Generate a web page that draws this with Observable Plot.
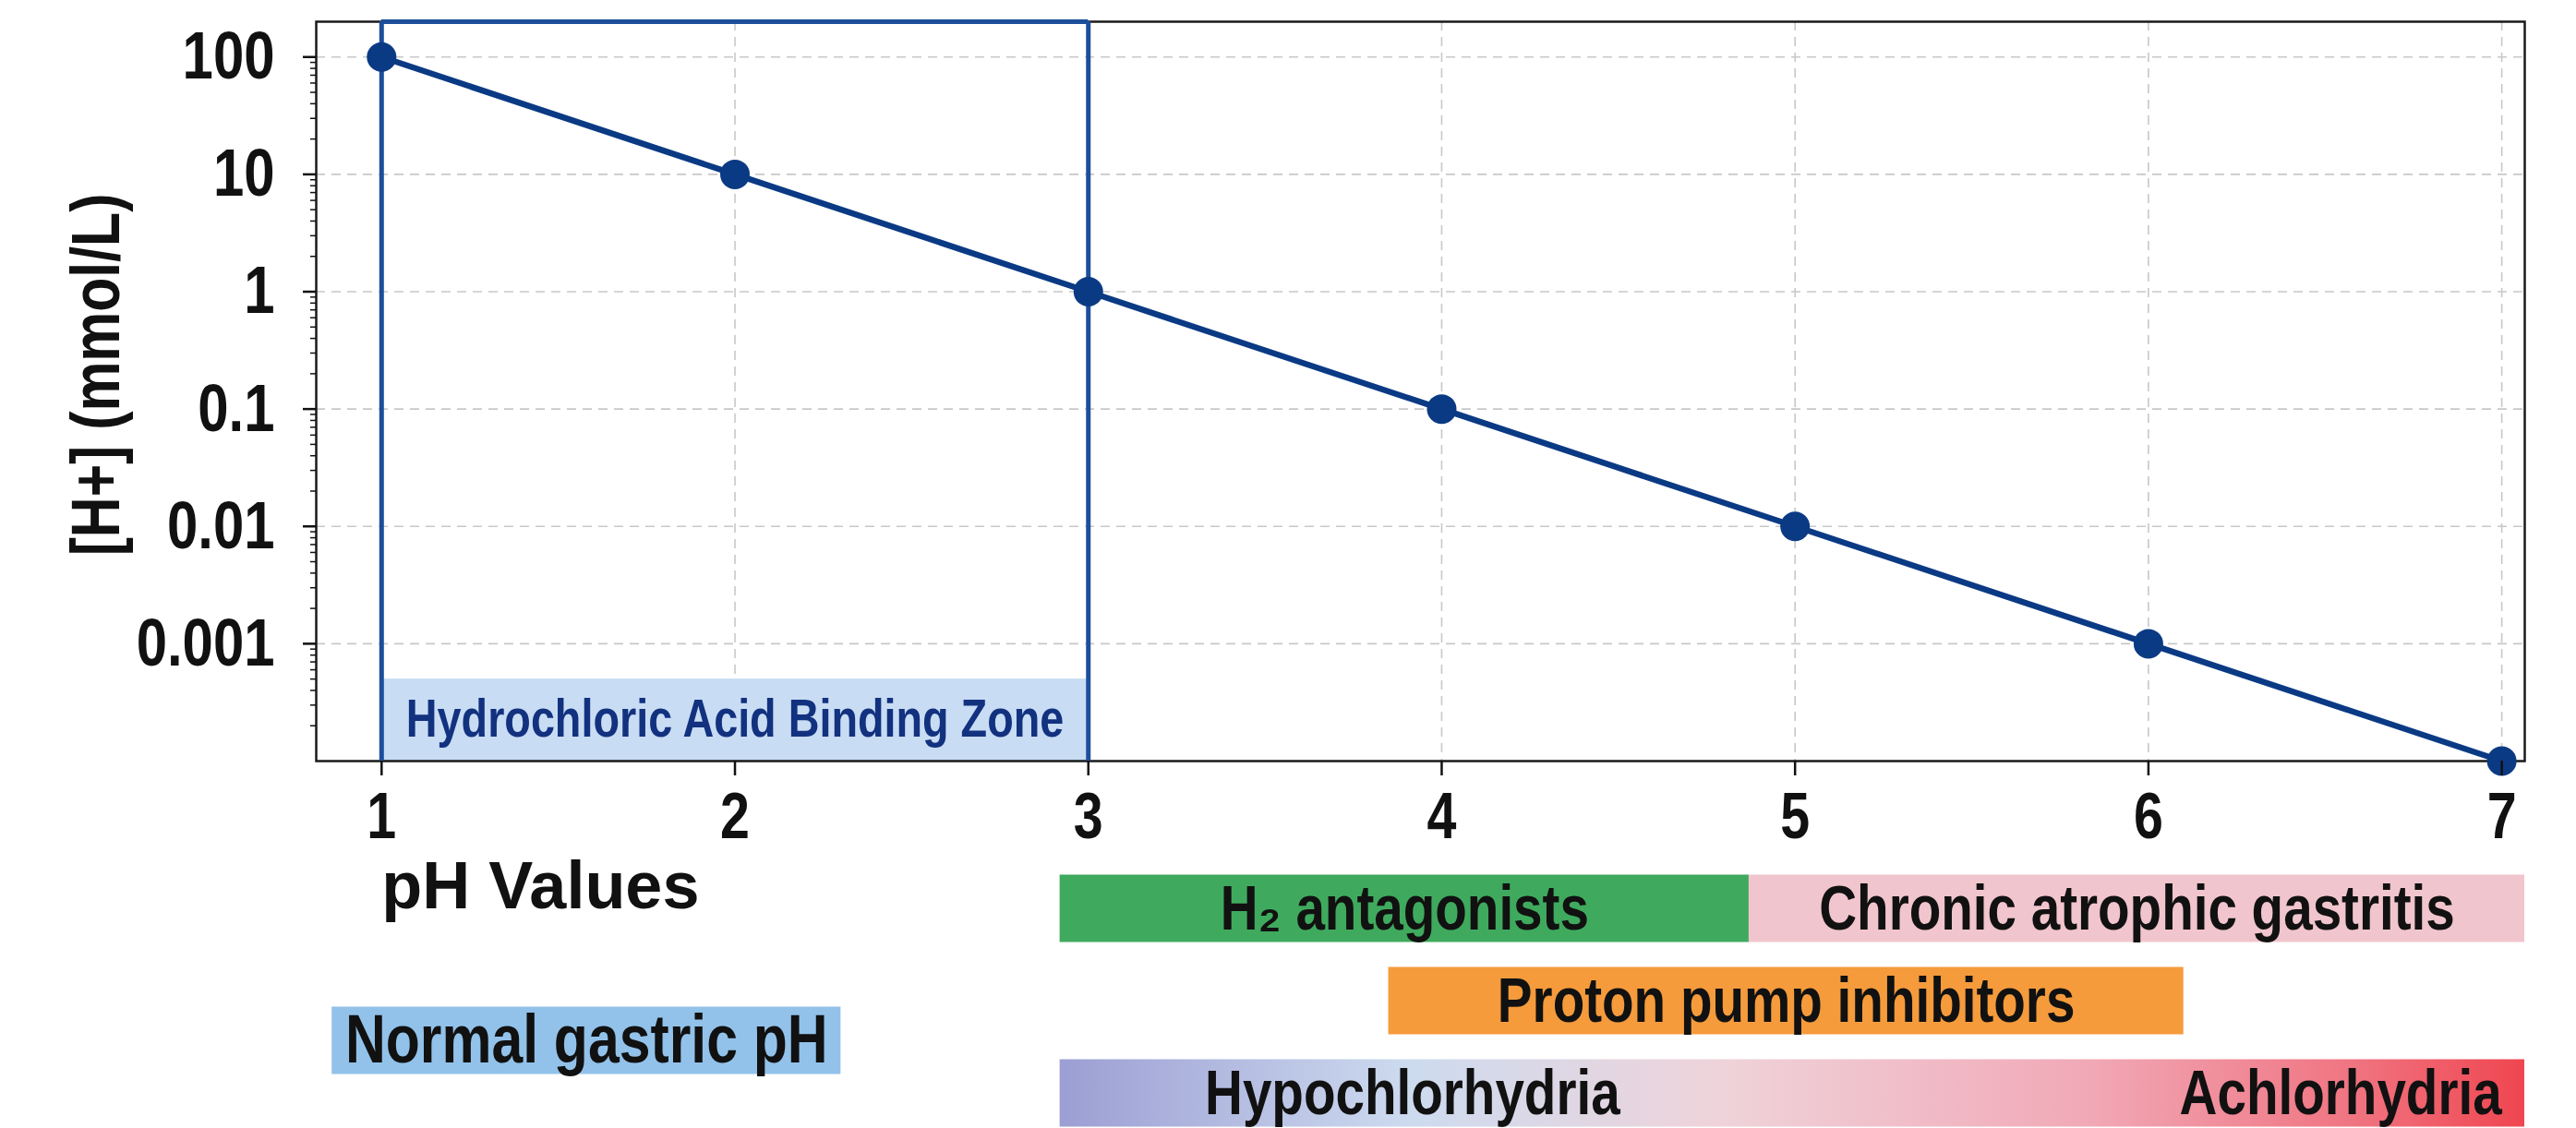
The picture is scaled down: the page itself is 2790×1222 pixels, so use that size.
<!DOCTYPE html>
<html>
<head>
<meta charset="utf-8">
<script src="https://cdn.jsdelivr.net/npm/d3@7"></script>
<script src="https://cdn.jsdelivr.net/npm/@observablehq/plot@0.6"></script>
<style>
  body { margin: 0; background: #ffffff; }
  #chart { position: relative; width: 2790px; height: 1222px; overflow: hidden; }
  #chart svg { display: block; }
  #chart svg.bars { margin-top: -80px; position: relative; }
</style>
</head>
<body>
<div id="chart"></div>
<script>
// ---------- data ----------
const pH = [1, 2, 3, 4, 5, 6, 7];
const hConc = [100, 10, 1, 0.1, 0.01, 0.001, 0.0001];
const yTickValues = [100, 10, 1, 0.1, 0.01, 0.001];
const yTickLabels = ["100", "10", "1", "0.1", "0.01", "0.001"];
const yLabel = "[H+] (mmol/L)";
const xLabel = "pH Values";

const zoneLabel = "Hydrochloric Acid Binding Zone";
const zonePH = [1, 3];
const zoneBand = [0.0001, 0.0005];

const barLabels = ["H₂ antagonists", "Chronic atrophic gastritis", "Proton pump inhibitors", "Hypochlorhydria", "Normal gastric pH"];
const barStart = [2.92, 4.87, 3.85, 2.92, 0.86];
const barEnd = [4.87, 7.065, 6.1, 7.065, 2.3];
const barRow = [0, 0, 1, 2, 1.43];

const sideLabels = ["Hypochlorhydria", "Achlorhydria"];
const sideLabelPH = [3.33, 7.0];
const sideLabelRow = [2, 2];

// ---------- styles ----------
const barColors = ["#3faa5e", "#f1c5cd", "#f59b3c", "url(#hypoGrad)", "#92c2ea"];
const barHasCenterText = [true, true, true, false, true];
const barFontSize = [69, 69, 69, 69, 74];
const sideAnchors = ["start", "end"];
const navy = "#0b3a84";
const zoneBlue = "#1d4e9b";
const font = "'Liberation Sans', Arial, Helvetica, sans-serif";
const narrow = "'Liberation Sans Narrow', 'Arial Narrow', 'Liberation Sans', Arial, sans-serif";
const condense = 0.82;
const xDomain = [0.815, 7.065];
const W = 2790;

// ---------- tables ----------
const series = pH.map((p, i) => ({pH: p, h: hConc[i]}));
const bars = barLabels.map((label, i) => ({label, x1: barStart[i], x2: barEnd[i], row: barRow[i], fill: barColors[i], center: barHasCenterText[i], size: barFontSize[i]}));
const sides = sideLabels.map((label, i) => ({label, x: sideLabelPH[i], row: sideLabelRow[i], anchor: sideAnchors[i]}));
const minorTicks = [];
for (let e = -4; e <= 2; e++) for (let m = 2; m <= 9; m++) { const v = m * Math.pow(10, e); if (v < 200) minorTicks.push(v); }

const yMax = 200, yMin = 0.0001;

const mainPlot = Plot.plot({
  width: W, height: 1000,
  marginTop: 23, marginBottom: 176, marginLeft: 342, marginRight: 56,
  x: {domain: xDomain},
  y: {type: "log", domain: [yMin, yMax]},
  style: {fontFamily: font, background: "#ffffff", color: "#111"},
  marks: [
    Plot.gridY(yTickValues, {stroke: "#c8c8c8", strokeOpacity: 1, strokeWidth: 1.6, strokeDasharray: "10,7"}),
    Plot.gridX(pH, {stroke: "#c8c8c8", strokeOpacity: 1, strokeWidth: 1.6, strokeDasharray: "10,7"}),
    Plot.rect([zoneBand], {x1: () => zonePH[0], x2: () => zonePH[1], y1: d => d[0], y2: d => d[1], fill: "#c8dcf4"}),
    Plot.text([zoneLabel], {x: (zonePH[0] + zonePH[1]) / 2, y: Math.sqrt(zoneBand[0] * zoneBand[1]), text: d => d,
      fill: "#12317f", fontSize: 57, fontWeight: "bold", fontFamily: narrow}),
    Plot.frame({stroke: "#1a1a1a", strokeWidth: 2.5}),
    Plot.ruleX(zonePH, {y1: yMin, y2: yMax, stroke: zoneBlue, strokeWidth: 5}),
    Plot.ruleY([yMax], {x1: zonePH[0], x2: zonePH[1], stroke: zoneBlue, strokeWidth: 5}),
    Plot.line(series, {x: "pH", y: "h", stroke: navy, strokeWidth: 6.5}),
    Plot.dot(series, {x: "pH", y: "h", r: 16, fill: navy, stroke: "none"}),
    Plot.axisX(pH, {tickSize: 16, tickPadding: 18, fontSize: 70, fontWeight: "bold", fontFamily: narrow, label: null, strokeWidth: 2.5,
      tickFormat: d => String(d)}),
    Plot.axisY(yTickValues, {tickSize: 14, tickPadding: 31, fontSize: 73, fontWeight: "bold", fontFamily: narrow, label: null, strokeWidth: 2.5,
      tickFormat: d => yTickLabels[yTickValues.indexOf(d)]}),
    Plot.axisY(minorTicks, {tickSize: 6, tickFormat: () => "", label: null, strokeWidth: 1.5}),
    Plot.text([yLabel], {frameAnchor: "left", textAnchor: "middle", lineAnchor: "middle", dx: -237, dy: -18, rotate: -90, text: d => d,
      fontSize: 74, fontWeight: "bold", fontFamily: narrow, fill: "#111"}),
    Plot.text([xLabel], {x: pH[0], frameAnchor: "bottom", textAnchor: "start", lineAnchor: "middle", dy: 136, text: d => d,
      fontSize: 72, fontWeight: "bold", fill: "#111"})
  ]
});

const gradientDefs = () => {
  const defs = d3.create("svg:defs");
  const g = defs.append("linearGradient").attr("id", "hypoGrad").attr("x1", "0%").attr("x2", "100%").attr("y1", "0%").attr("y2", "0%");
  [["0%", "#9c9ed3"], ["24%", "#cddbef"], ["45%", "#efd3da"], ["70%", "#f1a9b7"], ["88%", "#f07582"], ["100%", "#ef4650"]]
    .forEach(([o, c]) => g.append("stop").attr("offset", o).attr("stop-color", c));
  return defs.node();
};

const barsPlot = Plot.plot({
  width: W, height: 302,
  marginTop: 14, marginBottom: 0, marginLeft: 342, marginRight: 56,
  className: "bars",
  x: {domain: xDomain, axis: null},
  y: {domain: [-0.5, 2.38], reverse: true, axis: null},
  color: {type: "identity"},
  style: {fontFamily: font, background: "transparent", color: "#111", overflow: "visible"},
  marks: [
    gradientDefs,
    Plot.rect(bars, {x1: "x1", x2: "x2", y1: d => d.row - 0.365, y2: d => d.row + 0.365, fill: "fill"}),
    Plot.text(bars.filter(d => d.center && d.size === 69), {x: d => (d.x1 + d.x2) / 2, y: "row", text: "label", fontSize: 69, fontWeight: "bold", fontFamily: narrow, fill: "#111"}),
    Plot.text(bars.filter(d => d.center && d.size === 74), {x: d => (d.x1 + d.x2) / 2, y: "row", text: "label", fontSize: 74, fontWeight: "bold", fontFamily: narrow, fill: "#111"}),
    Plot.text(sides.filter(d => d.anchor === "start"), {x: "x", y: "row", text: "label", textAnchor: "start", fontSize: 69, fontWeight: "bold", fontFamily: narrow, fill: "#111"}),
    Plot.text(sides.filter(d => d.anchor === "end"), {x: "x", y: "row", text: "label", textAnchor: "end", fontSize: 69, fontWeight: "bold", fontFamily: narrow, fill: "#111"})
  ]
});
barsPlot.classList.add("bars");

const el = document.getElementById("chart");
el.appendChild(mainPlot);
el.appendChild(barsPlot);

// condensed look: squeeze the "narrow" texts horizontally (real text kept)
el.querySelectorAll("text").forEach(t => {
  const g = t.closest("[font-family]");
  if (g && (g.getAttribute("font-family") || "").includes("Narrow") && t.textContent.length) {
    const len = t.getComputedTextLength();
    if (len > 0) {
      t.setAttribute("textLength", (len * condense).toFixed(1));
      t.setAttribute("lengthAdjust", "spacingAndGlyphs");
    }
  }
});
</script>
</body>
</html>
